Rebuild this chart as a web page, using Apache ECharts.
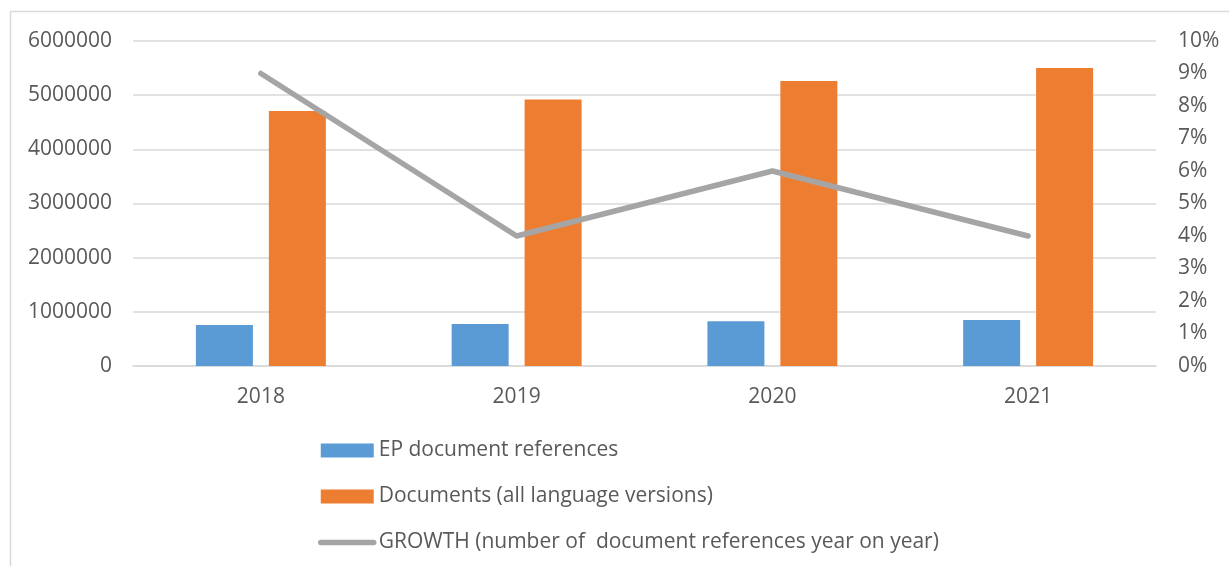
<!DOCTYPE html>
<html>
<head>
<meta charset="utf-8">
<script src="https://cdn.jsdelivr.net/npm/echarts@6/dist/echarts.min.js"></script>
<style>
  html, body { margin: 0; padding: 0; background: #fff; }
  #chart { width: 1229px; height: 566px; }
</style>
</head>
<body>
<div id="chart"></div>
<script>
// categories and values
const years = ['2018', '2019', '2020', '2021'];
const epRefs = [755000, 775000, 825000, 850000];
const docsAll = [4710000, 4920000, 5260000, 5500000];
const growth = [9, 4, 6, 4]; // %

const leftTicks = { min: 0, max: 6000000, interval: 1000000 };
const rightTicks = { min: 0, max: 10, interval: 1 };

const font = 'Open Sans';
const textColor = '#595959';

const chart = echarts.init(document.getElementById('chart'));
const option = {
  backgroundColor: '#fff',
  animation: false,
  graphic: [
    {
      // outer frame of the chart area
      type: 'rect',
      shape: { x: 10.5, y: 11.5, width: 1300, height: 700 },
      style: { fill: 'none', stroke: '#d9d9d9', lineWidth: 1.5 },
      silent: true,
    },
  ],
  grid: {
    left: 133,
    right: 73,
    top: 41,
    bottom: 200,
  },
  legend: {
    orient: 'vertical',
    left: 318,
    top: 440,
    padding: 0,
    itemGap: 25,
    itemWidth: 53,
    itemHeight: 14,
    textStyle: { fontFamily: font, fontSize: 21, color: textColor },
    data: [
      { name: 'EP document references', icon: 'rect' },
      { name: 'Documents (all language versions)', icon: 'rect' },
      {
        name: 'GROWTH (number of  document references year on year)',
        itemStyle: { color: 'rgba(0,0,0,0)', borderWidth: 0 },
        lineStyle: { color: '#a5a5a5', width: 5.5, cap: 'round' },
      },
    ],
  },
  xAxis: {
    type: 'category',
    data: years,
    axisLine: { show: true, lineStyle: { color: '#d9d9d9', width: 1.5 } },
    axisTick: { show: false },
    axisLabel: { fontFamily: font, fontSize: 21, color: textColor, margin: 21 },
  },
  yAxis: [
    {
      type: 'value',
      min: leftTicks.min,
      max: leftTicks.max,
      interval: leftTicks.interval,
      axisLine: { show: false },
      axisTick: { show: false },
      splitLine: { lineStyle: { color: '#d9d9d9', width: 1.5 } },
      axisLabel: {
        fontFamily: font,
        fontSize: 21,
        color: textColor,
        margin: 21,
        formatter: (v) => String(v),
      },
    },
    {
      type: 'value',
      min: rightTicks.min,
      max: rightTicks.max,
      interval: rightTicks.interval,
      axisLine: { show: false },
      axisTick: { show: false },
      splitLine: { show: false },
      axisLabel: {
        fontFamily: font,
        fontSize: 21,
        color: textColor,
        margin: 22,
        formatter: (v) => v + '%',
      },
    },
  ],
  series: [
    {
      name: 'EP document references',
      type: 'bar',
      data: epRefs,
      barWidth: 57,
      barGap: '28%',
      itemStyle: { color: '#5b9bd5' },
    },
    {
      name: 'Documents (all language versions)',
      type: 'bar',
      data: docsAll,
      barWidth: 57,
      itemStyle: { color: '#ed7d31' },
    },
    {
      name: 'GROWTH (number of  document references year on year)',
      type: 'line',
      yAxisIndex: 1,
      data: growth,
      symbol: 'none',
      lineStyle: { color: '#a5a5a5', width: 5.5, cap: 'round', join: 'round' },
      itemStyle: { color: '#a5a5a5' },
    },
  ],
};
chart.setOption(option);
</script>
</body>
</html>
